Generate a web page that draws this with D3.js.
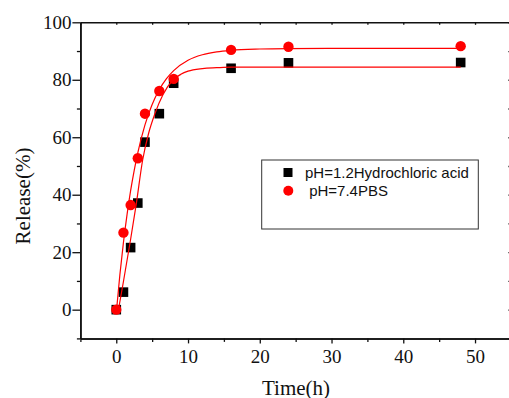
<!DOCTYPE html>
<html>
<head>
<meta charset="utf-8">
<script src="https://cdn.jsdelivr.net/npm/d3@7"></script>
<style>
  body { margin: 0; background: #fff; }
  svg { display: block; }
</style>
</head>
<body>
<svg id="chart" width="509" height="398"></svg>
<script>
// measured release, % vs time (h)
const times = [0, 1, 2, 3, 4, 6, 8, 16, 24, 48]
const acidRelease = [0, 6.1, 21.6, 37.1, 58.3, 68.2, 78.8, 84.0, 85.9, 86.0]
const pbsRelease = [0, 26.8, 36.4, 52.7, 68.2, 76.1, 80.3, 90.4, 91.5, 91.7]

// fitted curves
const acidFitT = [0.2, 1, 2, 2.8, 3.67, 4.5, 5.4, 6.5, 7.95, 9, 10, 12, 14, 16, 20, 48]
const acidFitY = [-1.5, 9.8, 24.5, 37, 52, 61.3, 68.3, 74.8, 80, 81.9, 83, 83.9, 84.2, 84.4, 84.4, 84.4]
const pbsFitT = [0, 0.5, 1, 1.5, 2, 2.5, 3, 4, 5, 6, 7, 8, 10, 12, 14, 16, 20, 24, 30, 48]
const pbsFitY = [-1.1, 12.1, 23.4, 33.1, 41.4, 48.5, 54.6, 64.3, 71.4, 76.6, 80.4, 83.2, 86.8, 88.7, 89.7, 90.25, 90.7, 90.85, 90.9, 90.9]

const xMajor = [0, 10, 20, 30, 40, 50]
const xMinor = [-5, 5, 15, 25, 35, 45, 55]
const yMajor = [0, 20, 40, 60, 80, 100]
const yMinor = [-10, 10, 30, 50, 70, 90]

const legendLabels = ['pH=1.2Hydrochloric acid', ' pH=7.4PBS']

const svg = d3.select('#chart')

const x = d3.scaleLinear().domain([-5, 55]).range([80.4, 510.9])
const y = d3.scaleLinear().domain([-10, 100]).range([338.4, 22.3])

const serif = 'Liberation Serif, Times New Roman, serif'
const sans = 'Liberation Sans, Arial, sans-serif'

function styleAxis(g) {
  g.select('.domain').attr('stroke', '#111').attr('stroke-width', 1.5)
  g.selectAll('.tick line').attr('stroke', '#111').attr('stroke-width', 1.3)
  g.selectAll('.tick text').attr('fill', '#111')
    .style('font-family', serif).style('font-size', '19px')
}

// minor ticks first
svg.append('g').attr('transform', `translate(0,${y(-10)})`)
  .call(d3.axisBottom(x).tickValues(xMinor).tickSize(3.5).tickSizeOuter(0).tickFormat(''))
  .call(styleAxis)
svg.append('g').attr('transform', `translate(${x(-5)},0)`)
  .call(d3.axisLeft(y).tickValues(yMinor).tickSize(3.5).tickSizeOuter(0).tickFormat(''))
  .call(styleAxis)

// major ticks
svg.append('g').attr('transform', `translate(0,${y(-10)})`)
  .call(d3.axisBottom(x).tickValues(xMajor).tickSize(5).tickPadding(6).tickSizeOuter(0))
  .call(styleAxis)
svg.append('g').attr('transform', `translate(${x(-5)},0)`)
  .call(d3.axisLeft(y).tickValues(yMajor).tickSize(8).tickPadding(1).tickSizeOuter(0))
  .call(styleAxis)

// top and right mirror axes
svg.append('g').attr('transform', `translate(0,${y(100)})`)
  .call(d3.axisTop(x).tickValues(xMajor.concat(xMinor)).tickSize(-2.5).tickSizeOuter(0).tickFormat(''))
  .call(styleAxis)
svg.append('g').attr('transform', `translate(${x(55)},0)`)
  .call(d3.axisRight(y).tickValues(yMajor.concat(yMinor)).tickSize(-2.5).tickSizeOuter(0).tickFormat(''))
  .call(styleAxis)

// axis titles
svg.append('text')
  .attr('x', 296).attr('y', 395)
  .attr('text-anchor', 'middle')
  .style('font-family', serif).style('font-size', '21px')
  .attr('fill', '#111')
  .text('Time(h)')

svg.append('text')
  .attr('transform', 'translate(30,196) rotate(-90)')
  .attr('text-anchor', 'middle')
  .style('font-family', serif).style('font-size', '21px')
  .attr('fill', '#111')
  .text('Release(%)')

// markers
const acidPts = times.map((t, i) => ({t, v: acidRelease[i]}))
const pbsPts = times.map((t, i) => ({t, v: pbsRelease[i]}))

svg.append('g').attr('class', 'acid')
  .selectAll('rect')
  .data(acidPts)
  .join('rect')
  .attr('x', d => x(d.t) - 4.8)
  .attr('y', d => y(d.v) - 4.8)
  .attr('width', 9.6)
  .attr('height', 9.6)
  .attr('fill', '#000')

svg.append('g').attr('class', 'pbs')
  .selectAll('circle')
  .data(pbsPts)
  .join('circle')
  .attr('cx', d => x(d.t))
  .attr('cy', d => y(d.v))
  .attr('r', 5.2)
  .attr('fill', '#ff0000')

// fitted lines
const line = d3.line()
  .x(d => x(d[0]))
  .y(d => y(d[1]))
  .curve(d3.curveMonotoneX)

svg.append('path')
  .datum(acidFitT.map((t, i) => [t, acidFitY[i]]))
  .attr('d', line)
  .attr('fill', 'none')
  .attr('stroke', '#ff0000')
  .attr('stroke-width', 1.2)

svg.append('path')
  .datum(pbsFitT.map((t, i) => [t, pbsFitY[i]]))
  .attr('d', line)
  .attr('fill', 'none')
  .attr('stroke', '#ff0000')
  .attr('stroke-width', 1.2)

// legend
const legend = svg.append('g').attr('class', 'legend')
legend.append('rect')
  .attr('x', 261.7).attr('y', 160)
  .attr('width', 216.6).attr('height', 69)
  .attr('fill', '#fff')
  .attr('stroke', '#333')
  .attr('stroke-width', 1)

legend.append('rect')
  .attr('x', 283.5).attr('y', 168)
  .attr('width', 9).attr('height', 9)
  .attr('fill', '#000')
legend.append('circle')
  .attr('cx', 288.3).attr('cy', 190.7)
  .attr('r', 5)
  .attr('fill', '#ff0000')

legend.selectAll('text')
  .data(legendLabels)
  .join('text')
  .attr('x', 305)
  .attr('y', (d, i) => 177.5 + i * 18.5)
  .style('font-family', sans).style('font-size', '15px')
  .style('white-space', 'pre')
  .attr('fill', '#111')
  .text(d => d)
</script>
</body>
</html>
